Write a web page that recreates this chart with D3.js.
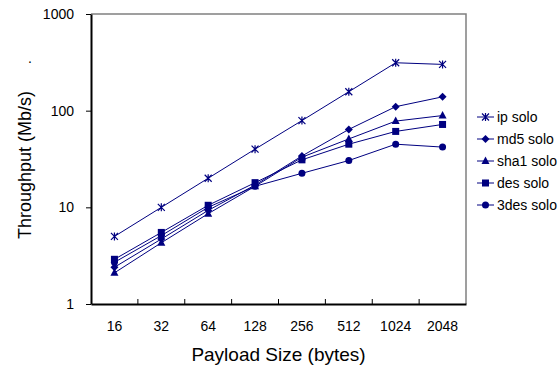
<!DOCTYPE html>
<meta charset="utf-8">
<style>
  body { margin: 0; background: #fff; }
  text { font-family: Arial, "Liberation Sans", sans-serif; }
</style>
<body>
<div class="chart"></div>
<script src="https://d3js.org/d3.v7.min.js"></script>
<script>

// data
var sizes = ["16", "32", "64", "128", "256", "512", "1024", "2048"];
var seriesNames = ["ip solo", "md5 solo", "sha1 solo", "des solo", "3des solo"];
var ipSolo   = [5, 10, 20, 40, 79, 157, 313, 301];
var md5Solo  = [2.4, 4.7, 9.3, 17, 34, 64, 110, 139];
var sha1Solo = [2.1, 4.3, 8.6, 16.5, 33, 51, 78, 89];
var desSolo  = [2.9, 5.5, 10.5, 18, 31, 45, 61, 72];
var des3Solo = [2.7, 5.1, 10, 16.5, 22.5, 30.5, 45, 42];
var yTicks = [1, 10, 100, 1000];

var series = [ipSolo, md5Solo, sha1Solo, desSolo, des3Solo];
var markers = ["asterisk", "diamond", "triangle", "square", "circle"];
var navy = "#000080";

var W = 560, H = 366;
var margin = {top: 14, right: 94, bottom: 62, left: 91},
    width = W - margin.left - margin.right,
    height = H - margin.top - margin.bottom;

var svg = d3.select(".chart").append("svg")
    .attr("width", W)
    .attr("height", H);

var g = svg.append("g")
    .attr("transform", "translate(" + margin.left + "," + margin.top + ")");

var x = d3.scaleBand().domain(sizes).range([0, width]);
var y = d3.scaleLog().domain([1, 1000]).range([height, 0]);

// top and right frame in grey
g.append("path")
    .attr("d", "M0,0H" + width + "V" + height)
    .attr("fill", "none")
    .attr("stroke", "#808080")
    .attr("stroke-width", 1.5);

// y axis
var yAxis = g.append("g")
    .call(d3.axisLeft(y).tickValues(yTicks).tickFormat(d3.format("d")).tickSize(5).tickSizeOuter(0));
yAxis.select(".domain").attr("stroke", "#000").attr("stroke-width", 2);
yAxis.selectAll("text").attr("font-size", "14px").attr("x", -17).attr("fill", "#000")
    .style("font-family", "Arial, 'Liberation Sans', sans-serif");

// x axis with ticks between categories, pointing inward
var xAxis = g.append("g")
    .attr("transform", "translate(0," + height + ")")
    .call(d3.axisBottom(x).tickSize(0).tickSizeOuter(0));
xAxis.select(".domain").attr("stroke", "#000").attr("stroke-width", 2);
xAxis.selectAll("text").attr("font-size", "14px").attr("y", 17).attr("fill", "#000")
    .style("font-family", "Arial, 'Liberation Sans', sans-serif");
xAxis.selectAll(".sep")
    .data(sizes.slice(1))
  .enter().append("line")
    .attr("class", "sep")
    .attr("x1", function(d) { return x(d); })
    .attr("x2", function(d) { return x(d); })
    .attr("y1", 0).attr("y2", -5)
    .attr("stroke", "#000");

// axis titles
svg.append("text")
    .attr("transform", "translate(31," + (margin.top + height / 2 + 6) + ") rotate(-90)")
    .attr("text-anchor", "middle")
    .attr("font-size", "18px")
    .text("Throughput (Mb/s)");

svg.append("text")
    .attr("x", 28).attr("y", 63)
    .attr("font-size", "14px")
    .text(".");

svg.append("text")
    .attr("x", margin.left + width / 2)
    .attr("y", 361)
    .attr("text-anchor", "middle")
    .attr("font-size", "19px")
    .text("Payload Size (bytes)");

function drawMarker(sel, kind) {
  if (kind === "asterisk") {
    sel.append("path")
        .attr("d", "M-3.5,-3.5L3.5,3.5M-3.5,3.5L3.5,-3.5M0,-4V4")
        .attr("stroke", navy).attr("stroke-width", 1.2).attr("fill", "none");
  } else if (kind === "diamond") {
    sel.append("path").attr("d", "M0,-4L4,0L0,4L-4,0Z").attr("fill", navy);
  } else if (kind === "triangle") {
    sel.append("path").attr("d", "M0,-4.5L4,3L-4,3Z").attr("fill", navy);
  } else if (kind === "square") {
    sel.append("rect").attr("x", -3.5).attr("y", -3.5).attr("width", 7).attr("height", 7).attr("fill", navy);
  } else {
    sel.append("circle").attr("r", 3.5).attr("fill", navy);
  }
}

var line = d3.line()
    .x(function(d, i) { return x(sizes[i]) + x.bandwidth() / 2; })
    .y(function(d) { return y(d); });

series.forEach(function(vals, s) {
  g.append("path")
      .datum(vals)
      .attr("fill", "none")
      .attr("stroke", navy)
      .attr("stroke-width", 1)
      .attr("d", line);

  g.selectAll(".m" + s)
      .data(vals)
    .enter().append("g")
      .attr("class", "m" + s)
      .attr("transform", function(d, i) {
        return "translate(" + (x(sizes[i]) + x.bandwidth() / 2) + "," + y(d) + ")";
      })
      .each(function() { drawMarker(d3.select(this), markers[s]); });
});

// legend
var legend = svg.append("g").attr("transform", "translate(477,117)");
seriesNames.forEach(function(name, i) {
  var row = legend.append("g").attr("transform", "translate(0," + (i * 22) + ")");
  row.append("line").attr("x1", 0).attr("x2", 17).attr("stroke", navy).attr("stroke-width", 1);
  drawMarker(row.append("g").attr("transform", "translate(8.5,0)"), markers[i]);
  row.append("text")
      .attr("x", 20).attr("dy", "0.35em")
      .attr("font-size", "14px")
      .text(name);
});

</script>
</body>
